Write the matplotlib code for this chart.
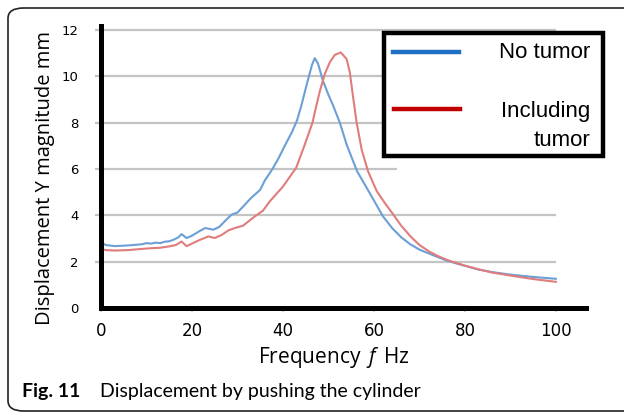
import matplotlib

matplotlib.use("Agg")
import matplotlib.pyplot as plt
from matplotlib.lines import Line2D
from matplotlib.patches import FancyBboxPatch, Rectangle

# frequency response, displacement Y magnitude (mm) vs frequency (Hz)
freq_no_tumor = [0, 1, 3, 6, 9, 10, 11, 12, 13, 14, 15, 16, 17, 17.7, 18.8,
                 20, 21.5, 22.9, 24.7, 26, 27.5, 28.7, 30, 31.2, 33, 35, 36,
                 37.7, 39, 40.4, 42, 43.1, 44, 45.3, 46.4, 47, 47.7, 48.8, 50,
                 51, 52.5, 54, 56.3, 59.1, 62, 64, 66, 68, 70, 72, 74, 76, 78,
                 80, 83, 86, 90, 95, 100]
disp_no_tumor = [2.85, 2.72, 2.67, 2.70, 2.75, 2.80, 2.78, 2.82, 2.80, 2.86,
                 2.88, 2.95, 3.05, 3.19, 3.02, 3.12, 3.30, 3.45, 3.38, 3.50,
                 3.80, 4.03, 4.12, 4.37, 4.75, 5.10, 5.50, 6.00, 6.45, 7.00,
                 7.60, 8.10, 8.70, 9.70, 10.50, 10.78, 10.55, 9.80, 9.20, 8.75,
                 8.00, 7.05, 5.90, 4.95, 3.95, 3.45, 3.05, 2.75, 2.52, 2.36,
                 2.20, 2.05, 1.93, 1.82, 1.66, 1.55, 1.44, 1.34, 1.26]

freq_tumor = [0, 1, 3, 6, 9, 11, 13, 15, 16.5, 17.7, 18.8, 20, 21.5, 23.6, 25,
              26.5, 28, 29.4, 31.2, 33.8, 35.6, 37.1, 40, 42.9, 44.7, 46.5,
              47.3, 48.1, 49.2, 50.3, 51.4, 52.7, 54, 54.7, 55.4, 56.2, 57.3,
              58.7, 60.6, 62.5, 64.2, 66, 68, 70, 72.3, 74, 76, 78, 80, 83, 86,
              90, 95, 100]
disp_tumor = [2.55, 2.50, 2.48, 2.50, 2.55, 2.58, 2.60, 2.66, 2.72, 2.87, 2.67,
              2.78, 2.92, 3.09, 3.02, 3.15, 3.35, 3.45, 3.55, 3.95, 4.20, 4.60,
              5.24, 6.05, 7.00, 8.00, 8.70, 9.35, 10.10, 10.60, 10.92, 11.03,
              10.74, 10.17, 9.13, 8.00, 6.84, 5.90, 5.05, 4.50, 4.05, 3.55,
              3.10, 2.72, 2.42, 2.25, 2.08, 1.95, 1.83, 1.67, 1.53, 1.40, 1.25,
              1.13]

x_ticks = [0, 20, 40, 60, 80, 100]
y_ticks = [0, 2, 4, 6, 8, 10, 12]

BLUE_LINE = "#6b9fd6"
RED_LINE = "#e07c7c"

plt.rcParams["mathtext.fontset"] = "custom"
plt.rcParams["mathtext.it"] = "Open Sans:italic"
plt.rcParams["mathtext.rm"] = "Open Sans"

fig = plt.figure(figsize=(6.24, 4.13), dpi=100)
ax = fig.add_axes([0.1619, 0.2542, 0.777, 0.683])
ax.set_xlim(0, 106.6)
ax.set_ylim(0, 12.17)

# horizontal guides; the one at 6 stops short behind the key
for y in y_ticks[1:]:
    x_end = 65 if y == 6 else 100
    ax.hlines(y, -1.3, x_end, color="#c4c4c4", lw=1.6, clip_on=False, zorder=1)

ax.plot(freq_no_tumor, disp_no_tumor, color=BLUE_LINE, lw=1.5, zorder=3,
        solid_joinstyle="round")
ax.plot(freq_tumor, disp_tumor, color=RED_LINE, lw=1.5, zorder=3,
        solid_joinstyle="round")

for side in ("top", "right"):
    ax.spines[side].set_visible(False)
for side in ("left", "bottom"):
    ax.spines[side].set_linewidth(3.6)
    ax.spines[side].set_color("black")
    ax.spines[side].set_zorder(4)

ax.set_xticks(x_ticks)
ax.set_yticks(y_ticks)
ax.tick_params(axis="x", length=3, width=1.2, color="#c4c4c4", pad=7,
               labelsize=12)
ax.tick_params(axis="y", length=0, pad=16, labelsize=9.5)
for lbl in ax.get_xticklabels() + ax.get_yticklabels():
    lbl.set_fontfamily("DejaVu Sans")

ax.set_xlabel("Frequency $\\,f\\,$ Hz", fontsize=15, fontfamily="Open Sans")
ax.xaxis.set_label_coords(0.479, -0.13)
ax.set_ylabel("Displacement Y magnitude mm", fontsize=14.5,
              fontfamily="Open Sans")
ax.yaxis.set_label_coords(-0.095, 0.46)

# key box, drawn in figure pixels
W, H = 624, 413


def fx(px):
    return px / W


def fy(py):
    return 1 - py / H


fig.patches.append(Rectangle((fx(384), fy(156)), fx(603) - fx(384),
                             fy(33) - fy(156), transform=fig.transFigure,
                             facecolor="white", edgecolor="black", lw=3.2,
                             zorder=5))
fig.lines.append(Line2D([fx(393), fx(459)], [fy(52), fy(52)],
                        transform=fig.transFigure, color="#1f6fc4", lw=3.2,
                        zorder=6))
fig.lines.append(Line2D([fx(394), fx(460)], [fy(109), fy(109)],
                        transform=fig.transFigure, color="#c00000", lw=3.2,
                        zorder=6))
key_font = dict(fontsize=16, fontfamily="Liberation Sans", ha="right",
                va="center", zorder=7)
fig.text(fx(590), fy(52), "No tumor", **key_font)
fig.text(fx(590), fy(112), "Including", **key_font)
fig.text(fx(590), fy(140), "tumor", **key_font)

# rounded frame and caption
fig.patches.append(FancyBboxPatch((fx(8), fy(411)), 1.2, fy(8) - fy(411),
                                  boxstyle="round,pad=0,rounding_size=0.025",
                                  transform=fig.transFigure, facecolor="none",
                                  edgecolor="#222222", lw=1.2, clip_on=False))
fig.text(fx(22), fy(392), "Fig. 11", fontsize=14, fontweight="bold",
         fontfamily="Lato", va="center")
fig.text(fx(100), fy(392), "Displacement by pushing the cylinder", fontsize=14,
         fontfamily="Lato", va="center")

fig.savefig("out.png", dpi=100)
